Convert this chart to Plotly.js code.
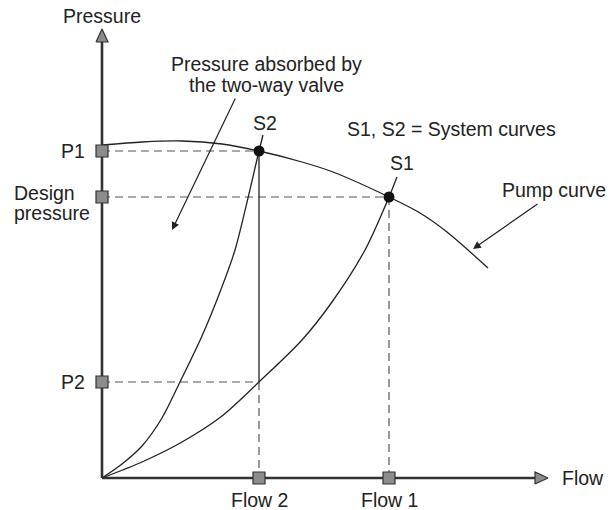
<!DOCTYPE html>
<html>
<head>
<meta charset="utf-8">
<script src="https://cdn.plot.ly/plotly-3.0.1.min.js"></script>
<style>html,body{margin:0;padding:0;background:#fff;}#chart{width:616px;height:510px;}</style>
</head>
<body>
<div id="chart"></div>
<script>
// ---- data (arbitrary flow / pressure units) ----
const flowLabels = ['Flow 2', 'Flow 1'];
const flowValues = [157, 287];
const pressureLabels = ['P1', 'Design', 'pressure', 'P2'];
const pressureValues = [327, 281, 96];
const pumpFlow = [0, 40, 80, 120, 157, 200, 231, 287, 318, 345, 386];
const pumpPressure = [333, 336, 337, 334, 327, 316, 306, 281, 265, 246, 210];
const s1Flow = [0, 40, 80, 120, 157, 200, 230, 263, 287, 295];
const s1Pressure = [0, 16, 36, 62, 96, 138, 176, 228, 281, 301];
const s2Flow = [0, 20, 40, 60, 78, 100, 118, 133, 157, 161];
const s2Pressure = [0, 14, 32, 60, 96, 142, 186, 228, 327, 343];
const valveNote = ['Pressure absorbed by', 'the two-way valve'];
const axisEnds = {flow: 446, pressure: 449};

const ink = '#222', axisInk = '#333', boxFill = '#8c8c8c';
const font = {family: 'Liberation Sans, Arial, sans-serif', size: 19.5, color: ink};
const traces = [];
const line = (x, y, opts) => traces.push(Object.assign({x, y, mode: 'lines', hoverinfo: 'skip', showlegend: false, cliponaxis: false}, opts));
const dash = {color: '#555', width: 1.2, dash: '8px,5px'};

const [f2, f1] = flowValues;
const [p1, pd, p2] = pressureValues;
// dashed guide lines
line([0, f2], [p1, p1], {line: dash});
line([0, f1], [pd, pd], {line: dash});
line([0, f2], [p2, p2], {line: dash});
line([f2, f2], [p2, 0], {line: dash});
line([f1, f1], [pd, 0], {line: dash});
// solid drop at flow 2 (pressure absorbed)
line([f2, f2], [p1, p2], {line: {color: ink, width: 1.3}});
// curves
line(pumpFlow, pumpPressure, {line: {color: ink, width: 1.3, shape: 'spline', smoothing: 0.8}});
line(s1Flow, s1Pressure, {line: {color: ink, width: 1.3, shape: 'spline', smoothing: 0.8}});
line(s2Flow, s2Pressure, {line: {color: ink, width: 1.3, shape: 'spline', smoothing: 0.8}});
// axes
const ah = 13, aw = 6;
line([0, 0], [0, axisEnds.pressure - ah], {line: {color: axisInk, width: 2.6}});
line([0, axisEnds.flow - ah], [0, 0], {line: {color: axisInk, width: 2.6}});
line([-aw, aw, 0, -aw], [axisEnds.pressure - ah, axisEnds.pressure - ah, axisEnds.pressure, axisEnds.pressure - ah],
  {fill: 'toself', fillcolor: boxFill, line: {color: axisInk, width: 1.2}});
line([axisEnds.flow - ah, axisEnds.flow - ah, axisEnds.flow, axisEnds.flow - ah], [-aw, aw, 0, -aw],
  {fill: 'toself', fillcolor: boxFill, line: {color: axisInk, width: 1.2}});
// tick boxes
traces.push({x: [0, 0, 0, f2, f1], y: [p1, pd, p2, 0, 0], mode: 'markers', hoverinfo: 'skip', showlegend: false, cliponaxis: false,
  marker: {symbol: 'square', size: 12, color: boxFill, line: {color: axisInk, width: 1.2}}});
// operating points
traces.push({x: [f2, f1], y: [p1, pd], mode: 'markers', hoverinfo: 'skip', showlegend: false, cliponaxis: false,
  marker: {size: 11, color: '#111'}});

const ann = (text, x, y, xanchor, extra) => Object.assign({text, x, y, xref: 'x', yref: 'y', xanchor, yanchor: 'middle', showarrow: false, font}, extra || {});
const annotations = [
  ann('Pressure', 0, 462, 'center'),
  ann(pressureLabels[0], -15, p1, 'right'),
  ann(pressureLabels[1], -90, pd + 4, 'left'),
  ann(pressureLabels[2], -90, pd - 16, 'left'),
  ann(pressureLabels[3], -15, p2, 'right'),
  ann(flowLabels[0], f2, -22, 'center'),
  ann(flowLabels[1], f1, -22, 'center'),
  ann('Flow', 458, 0, 'left'),
  ann(valveNote[0], 164, 414, 'center'),
  ann(valveNote[1], 164, 393, 'center'),
  ann('S2', 163, 355, 'center'),
  ann('S1', 300, 315, 'center'),
  ann('S1, S2 = System curves', 349, 349, 'center'),
  ann('Pump curve', 452, 288, 'center'),
  {x: 70, y: 248, ax: 134, ay: 381, axref: 'x', ayref: 'y', xref: 'x', yref: 'y', text: '', showarrow: true,
   arrowhead: 2, arrowsize: 1.3, arrowwidth: 1.2, arrowcolor: ink, standoff: 0, startstandoff: 0},
  {x: 371, y: 229, ax: 437, ay: 275, axref: 'x', ayref: 'y', xref: 'x', yref: 'y', text: '', showarrow: true,
   arrowhead: 2, arrowsize: 1.3, arrowwidth: 1.2, arrowcolor: ink, standoff: 0, startstandoff: 0}
];

const layout = {
  width: 616, height: 510, margin: {l: 0, r: 0, t: 0, b: 0},
  paper_bgcolor: '#fff', plot_bgcolor: '#fff', showlegend: false,
  xaxis: {range: [-102, 514], visible: false, fixedrange: true},
  yaxis: {range: [-32, 478], visible: false, fixedrange: true},
  annotations
};
Plotly.newPlot('chart', traces, layout, {staticPlot: true, displayModeBar: false});
</script>
</body>
</html>
